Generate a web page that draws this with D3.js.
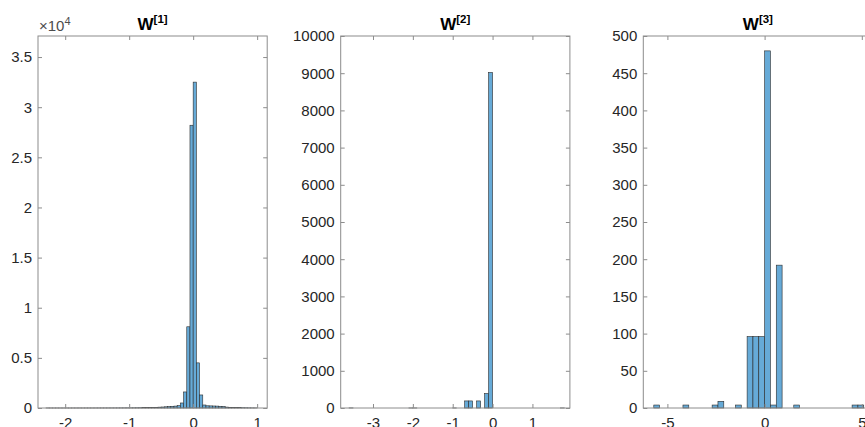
<!DOCTYPE html>
<html>
<head>
<meta charset="utf-8">
<script src="https://cdn.jsdelivr.net/npm/d3@7"></script>
<style>
  body { margin: 0; background: #fff; }
  svg { display: block; font-family: "Liberation Sans", Arial, Helvetica, sans-serif; }
</style>
</head>
<body>
<svg id="chart" width="865" height="427"></svg>
<script>
// Histogram data (counts per bin)
const w1BinStart = -2.3;
const w1BinWidth = 0.05;
const w1Counts = [
  4, 3, 2, 3, 2, 2, 3, 2, 3, 3, 4, 3, 4, 5, 4, 5, 6, 6, 7, 8, 8, 9, 10, 12, 13, 15,
  17, 20, 24, 28, 33, 40, 48, 58, 70, 85, 100, 120,
  150, 170, 190, 230,
  500, 1600, 8100, 28200, 32500, 4500, 1300, 300,
  220, 210, 200, 190, 170, 150,
  90, 70, 55, 45, 35, 28, 22, 16, 12, 8
];

const w2BinStart = -3.6;
const w2BinWidth = 0.1;
const w2Counts = [
  2, 0, 0, 0, 0, 0, 0, 0, 0, 0, 0, 0, 0, 0, 0, 1, 1, 0, 0, 0,
  0, 0, 0, 0, 0, 0, 1, 0, 0, 190, 190, 0, 190, 0, 390, 9020,
  0, 0, 0, 0, 0, 0, 0, 0, 0, 0, 0, 0, 0, 0, 0, 0, 0, 1
];

const w3BinStart = -5.7;
const w3BinWidth = 0.3;
const w3Counts = [
  4, 0, 0, 0, 0, 4, 0, 0, 0, 0, 4, 9, 0, 0, 4, 0, 96, 96, 96, 480,
  4, 192, 0, 0, 4, 0, 0, 0, 0, 0, 0, 0, 0, 0, 4, 4
];

// Axis limits and ticks
const w1XLim = [-2.425, 1.157];
const w1YLim = [0, 37100];
const w1XTicks = [-2, -1, 0, 1];
const w1XTickLabels = ["-2", "-1", "0", "1"];
const w1YTicks = [0, 5000, 10000, 15000, 20000, 25000, 30000, 35000];
const w1YTickLabels = ["0", "0.5", "1", "1.5", "2", "2.5", "3", "3.5"];

const w2XLim = [-3.81, 1.94];
const w2YLim = [0, 10000];
const w2XTicks = [-3, -2, -1, 0, 1];
const w2XTickLabels = ["-3", "-2", "-1", "0", "1"];
const w2YTicks = [0, 1000, 2000, 3000, 4000, 5000, 6000, 7000, 8000, 9000, 10000];
const w2YTickLabels = ["0", "1000", "2000", "3000", "4000", "5000", "6000", "7000", "8000", "9000", "10000"];

const w3XLim = [-6.24, 5.55];
const w3YLim = [0, 500];
const w3XTicks = [-5, 0, 5];
const w3XTickLabels = ["-5", "0", "5"];
const w3YTicks = [0, 50, 100, 150, 200, 250, 300, 350, 400, 450, 500];
const w3YTickLabels = ["0", "50", "100", "150", "200", "250", "300", "350", "400", "450", "500"];

const panels = [
  { left: 38, sup: "[1]", start: w1BinStart, width: w1BinWidth, counts: w1Counts,
    xLim: w1XLim, yLim: w1YLim, xTicks: w1XTicks, xLabels: w1XTickLabels,
    yTicks: w1YTicks, yLabels: w1YTickLabels, exponent: "4" },
  { left: 340.7, sup: "[2]", start: w2BinStart, width: w2BinWidth, counts: w2Counts,
    xLim: w2XLim, yLim: w2YLim, xTicks: w2XTicks, xLabels: w2XTickLabels,
    yTicks: w2YTicks, yLabels: w2YTickLabels },
  { left: 643.3, sup: "[3]", start: w3BinStart, width: w3BinWidth, counts: w3Counts,
    xLim: w3XLim, yLim: w3YLim, xTicks: w3XTicks, xLabels: w3XTickLabels,
    yTicks: w3YTicks, yLabels: w3YTickLabels }
];

const axW = 229.2;
const axTop = 36;
const axBottom = 408;
const tickLen = 4;
const textColor = "#262626";
const boxColor = "#8c8c8c";
const barFill = "#66aad7";
const barEdge = "#2b2b2b";

const svg = d3.select("#chart");

panels.forEach(p => {
  const x = d3.scaleLinear().domain(p.xLim).range([p.left, p.left + axW]);
  const y = d3.scaleLinear().domain(p.yLim).range([axBottom, axTop]);

  const g = svg.append("g");

  // Bars (only non-empty bins)
  const bins = p.counts.map((c, i) => ({
    x0: p.start + i * p.width,
    x1: p.start + (i + 1) * p.width,
    count: c
  })).filter(d => d.count > 0);

  g.append("g")
    .selectAll("rect")
    .data(bins)
    .enter()
    .append("rect")
    .attr("x", d => x(d.x0))
    .attr("y", d => y(d.count))
    .attr("width", d => x(d.x1) - x(d.x0))
    .attr("height", d => y(0) - y(d.count))
    .attr("fill", barFill)
    .attr("stroke", barEdge)
    .attr("stroke-width", 0.6);

  // Axes with inward ticks
  const fmtX = v => p.xLabels[p.xTicks.indexOf(v)];
  const fmtY = v => p.yLabels[p.yTicks.indexOf(v)];

  const bottom = g.append("g")
    .attr("transform", `translate(0,${axBottom})`)
    .call(d3.axisBottom(x).tickValues(p.xTicks).tickFormat(fmtX)
      .tickSizeInner(-tickLen).tickSizeOuter(0).tickPadding(9));
  const left = g.append("g")
    .attr("transform", `translate(${p.left},0)`)
    .call(d3.axisLeft(y).tickValues(p.yTicks).tickFormat(fmtY)
      .tickSizeInner(-tickLen).tickSizeOuter(0).tickPadding(6));
  const top = g.append("g")
    .attr("transform", `translate(0,${axTop})`)
    .call(d3.axisTop(x).tickValues(p.xTicks).tickFormat("")
      .tickSizeInner(-tickLen).tickSizeOuter(0));
  const right = g.append("g")
    .attr("transform", `translate(${p.left + axW},0)`)
    .call(d3.axisRight(y).tickValues(p.yTicks).tickFormat("")
      .tickSizeInner(-tickLen).tickSizeOuter(0));

  [bottom, left, top, right].forEach(a => {
    a.select(".domain").remove();
    a.selectAll(".tick line").attr("stroke", boxColor).attr("stroke-width", 1);
    a.selectAll(".tick text")
      .attr("fill", textColor)
      .style("font-size", "15px")
      .style("font-family", "'Liberation Sans', Arial, Helvetica, sans-serif");
  });

  // Box
  g.append("rect")
    .attr("x", p.left)
    .attr("y", axTop)
    .attr("width", axW)
    .attr("height", axBottom - axTop)
    .attr("fill", "none")
    .attr("stroke", boxColor)
    .attr("stroke-width", 1);

  // Title
  const title = g.append("text")
    .attr("x", p.left + axW / 2)
    .attr("y", 30)
    .attr("text-anchor", "middle")
    .attr("fill", "#000")
    .style("font-weight", "bold")
    .style("font-size", "17px");
  title.append("tspan").text("W");
  title.append("tspan")
    .attr("dy", -7)
    .style("font-size", "11.5px")
    .text(p.sup);

  // Exponent label
  if (p.exponent) {
    const ex = g.append("text")
      .attr("x", p.left + 1)
      .attr("y", 31)
      .attr("fill", "#4d4d4d")
      .style("font-size", "15px");
    ex.append("tspan").text("\u00d710");
    ex.append("tspan")
      .attr("dy", -6)
      .style("font-size", "11px")
      .text(p.exponent);
  }
});
</script>
</body>
</html>
